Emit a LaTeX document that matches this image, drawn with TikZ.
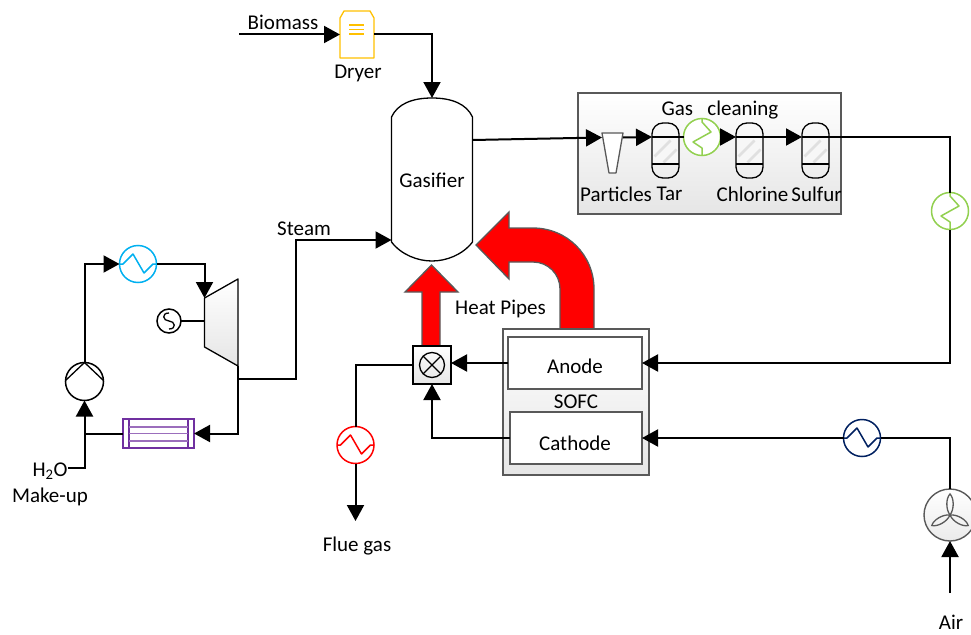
\documentclass[tikz,border=0pt]{standalone}
\usepackage{fontspec}
\setmainfont{Carlito}
\usetikzlibrary{arrows.meta,calc}
\definecolor{dkgray}{HTML}{595959}
\definecolor{hxgreen}{HTML}{92D050}
\definecolor{hxblue}{HTML}{00B0F0}
\definecolor{hxnavy}{HTML}{002060}
\definecolor{dryyellow}{HTML}{FFC000}
\definecolor{conpurple}{HTML}{7030A0}
\tikzset{
flow/.style={line width=2pt,-{Triangle[length=16pt,width=17pt]}},
pipe/.style={line width=2pt},
lbl/.style={font=\fontsize{21}{24}\selectfont,inner sep=0pt},
hxcirc/.style={circle,draw,line width=1.5pt,minimum size=37pt,inner sep=0pt,outer sep=0pt},
hxsq/.pic={\draw[line width=1.5pt,line join=round,pic actions](-18.5,0)--(-15,0)--(-5,-10)--(6,9)--(15,0)--(18.5,0);},
hxsqv/.pic={\draw[line width=1.5pt,line join=round,pic actions](0,-18)--(0,-15)--(9,-5)--(-9,5)--(0,11)--(0,18);},
vessel/.style={draw,line width=1.3pt,rounded corners=11pt,minimum width=27pt,minimum height=55pt,inner sep=0pt,outer sep=0pt,
path picture={\begin{scope}[sharp corners,line width=1.3pt]
\fill[black!3]([yshift=-14pt]path picture bounding box.north west) rectangle ([yshift=14pt]path picture bounding box.south east);
\draw[black!12,line width=2.5pt]([shift={(-11,6)}]path picture bounding box.center)--++(16,-16);
\draw[black!12,line width=2.5pt]([shift={(-2,12)}]path picture bounding box.center)--++(13,-13);
\draw([yshift=-14pt]path picture bounding box.north west)--([yshift=-14pt]path picture bounding box.north east);
\draw([yshift=14pt]path picture bounding box.south west)--([yshift=14pt]path picture bounding box.south east);
\end{scope}}},
heatarrow/.style={draw=dkgray,line width=1.3pt,fill=red,line join=miter},
stack/.style={draw=dkgray,line width=1.5pt,fill=white,minimum height=52pt,inner sep=0pt,outer sep=0pt},
softbox/.style={draw=dkgray,line width=1.2pt,top color=white,bottom color=black!10,inner sep=0pt,outer sep=0pt}
}
\begin{document}
\begin{tikzpicture}[x=1pt,y=-1pt,node distance=43.5pt]
\useasboundingbox (0,0) rectangle (971,634);
% feed side
\coordinate(BIOin) at (239,34.5);
\node(BIO)[lbl] at (283,22.5){Biomass};
\node(DRY)[minimum width=34pt,minimum height=47pt,inner sep=0pt,outer sep=0pt] at (357,34.5){};
\draw[dryyellow,line width=1.3pt,line join=round](DRY.south west)--($(DRY.north west)+(0,7)$)--($(DRY.north west)+(4,0)$)--($(DRY.north east)+(-4,0)$)--($(DRY.north east)+(0,7)$)--(DRY.south east)--cycle;
\foreach \yy in {25,29.5,34}{\draw[dryyellow,line width=1.3pt](349,\yy)--(364,\yy);}
\node(DRYl)[lbl] at (358,73){Dryer};
\node(GAS)[minimum width=81pt,minimum height=163pt,inner sep=0pt,outer sep=0pt] at (432,179.5){};
\draw[line width=1.3pt]($(GAS.north west)+(0,19)$) .. controls ($(GAS.north west)+(6,6)$) and ($(GAS.north)+(-20,0)$) .. (GAS.north) .. controls ($(GAS.north)+(20,0)$) and ($(GAS.north east)+(-6,6)$) .. ($(GAS.north east)+(0,19)$)--($(GAS.south east)+(0,-19)$) .. controls ($(GAS.south east)+(-10,-6)$) and ($(GAS.south)+(14,0)$) .. (GAS.south) .. controls ($(GAS.south)+(-14,0)$) and ($(GAS.south west)+(10,-6)$) .. ($(GAS.south west)+(0,-19)$)--cycle;
\node(GASl)[lbl] at (432,180){Gasifier};
\draw[flow](BIOin)--(DRY.west);
\draw[flow](DRY.east)-|(GAS.north);
% gas cleaning
\node(CLN)[softbox,minimum width=263pt,minimum height=121pt] at (709.5,153.5){};
\node(CLNl)[lbl] at (720,110){Gas\ \ \ cleaning};
\node(CYC)[minimum width=21pt,minimum height=40pt,inner sep=0pt,outer sep=0pt] at (612.5,153){};
\draw[dkgray,line width=1.3pt,fill=white,line join=round](CYC.north west)--(CYC.north east)--($(CYC.south east)+(-7,0)$)--($(CYC.south west)+(7,0)$)--cycle;
\coordinate(CYCin) at (602,137.5);
\coordinate(CYCout) at (623,137.5);
\coordinate(GASout) at (472.5,140);
\node(TAR)[vessel] at (665.5,150.5){};
\node(CHL)[vessel] at (749.5,150.5){};
\node(SUL)[vessel] at (815.5,150.5){};
\coordinate(TARw) at (652,137);
\coordinate(CHLw) at (736,137);
\coordinate(SULw) at (802,137);
\coordinate(TARe) at (679,137);
\coordinate(CHLe) at (763,137);
\coordinate(SULe) at (829,137);
\node(GR1)[hxcirc,draw=hxgreen,fill=white] at (702,137){};
\pic[hxgreen] at (GR1) {hxsqv};
\node(GR2)[hxcirc,draw=hxgreen,fill=white] at (950,211){};
\pic[hxgreen] at (GR2) {hxsqv};
\draw[flow](GASout)--(CYCin);
\draw[flow](CYCout)--(TARw);
\draw[pipe](TARe)--(GR1.west);
\draw[flow](GR1.east)--(CHLw);
\draw[flow](CHLe)--(SULw);
\node(PARl)[lbl,below of = CYC,yshift=2.5pt,xshift=3.5pt]{Particles};
\node(TARl)[lbl,below of = TAR,xshift=4pt]{Tar};
\node(CHLl)[lbl,below of = CHL,xshift=3pt]{Chlorine};
\node(SULl)[lbl,below of = SUL,xshift=1pt]{Sulfur};
% heat pipes
\draw[heatarrow](594,329)--(594,289) .. controls (594,255) and (567,228) .. (533,228)--(509,228)--(509,212)--(476,245)--(509,279)--(509,262)--(533,262) .. controls (548,262) and (560,274) .. (560,289)--(560,329)--cycle;
\draw[heatarrow](422,346)--(422,292)--(405,292)--(431.5,265)--(458,292)--(440,292)--(440,346)--cycle;
\node(HPl)[lbl] at (500.5,309){Heat Pipes};
% fuel cell
\node(SOFC)[softbox,minimum width=146pt,minimum height=146pt] at (576,402){};
\node(ANO)[stack,minimum width=134pt] at (575,363){};
\node(CAT)[stack,minimum width=132pt] at (576,438){};
\node(ANOl)[lbl] at (575,366){Anode};
\node(CATl)[lbl] at (575,443){Cathode};
\node(SOFCl)[lbl] at (576,402){SOFC};
\node(MIX)[softbox,draw=black,line width=1.5pt,minimum size=38pt] at (432,365){};
\node(MIXc)[circle,draw,line width=1.3pt,minimum size=25pt,inner sep=0pt,path picture={\draw[line width=1.3pt](path picture bounding box.north west)--(path picture bounding box.south east);\draw[line width=1.3pt](path picture bounding box.north east)--(path picture bounding box.south west);}] at (MIX){};
\node(RED)[hxcirc,draw=red] at (355.5,445){};
\pic[red] at (RED) {hxsq};
\coordinate(FLUend) at (355.5,521);
\node(FLUl)[lbl] at (357,546){Flue gas};
\draw[flow](ANO.west)--(ANO.west -| MIX.east);
\draw[flow](CAT.west)-|(MIX.south);
\draw[pipe](MIX.west)-|(RED.north);
\draw[flow](RED.south)--(FLUend);
% air side
\node(FAN)[circle,draw=dkgray,line width=1.4pt,top color=white,bottom color=black!8,minimum size=52pt,inner sep=0pt,outer sep=0pt] at (950,515){};
\foreach \aa in {0,120,240}{\draw[dkgray,line width=1.3pt,rotate around={\aa:(FAN.center)}](FAN.center) .. controls ($(FAN.center)+(-4.5,-6)$) and ($(FAN.center)+(-4,-17)$) .. ($(FAN.center)+(0,-21)$) .. controls ($(FAN.center)+(4,-17)$) and ($(FAN.center)+(4.5,-6)$) .. (FAN.center);}
\node(NAV)[hxcirc,draw=hxnavy] at (862,438){};
\pic[hxnavy] at (NAV) {hxsq};
\coordinate(AIRin) at (950,593);
\node(AIRl)[lbl] at (951,622){Air};
\draw[flow](AIRin)--(FAN.south);
\draw[pipe](FAN.north)|-(NAV.east);
\draw[flow](NAV.west)--(CAT.east);
\draw[pipe](SULe)-|(GR2.north);
\draw[flow](GR2.south)|-(ANO.east);
% steam cycle
\coordinate(TURa) at (204.5,298);
\coordinate(TURb) at (238,279);
\coordinate(TURc) at (238,366);
\coordinate(TURd) at (204.5,347);
\draw[line width=1.3pt,line join=round,top color=white,bottom color=black!10](TURa)--(TURb)--(TURc)--(TURd)--cycle;
\node(GEN)[circle,draw,line width=1.5pt,minimum size=24pt,inner sep=0pt,outer sep=0pt] at (169,321){};
\draw[line width=1.3pt]($(GEN.center)+(0,-8)$) .. controls ($(GEN.center)+(-8,-8)$) and ($(GEN.center)+(-6,0)$) .. (GEN.center) .. controls ($(GEN.center)+(6,0)$) and ($(GEN.center)+(8,8)$) .. ($(GEN.center)+(0,8)$);
\draw[pipe](GEN.east)--(GEN.east -| TURa);
\node(BLU)[hxcirc,draw=hxblue] at (138,264){};
\pic[hxblue] at (BLU) {hxsq};
\node(PMP)[circle,draw,line width=1.5pt,minimum size=38pt,inner sep=0pt,outer sep=0pt,path picture={\draw[line width=1.3pt]([shift={(-19,-1)}]path picture bounding box.center)--(path picture bounding box.north)--([shift={(19,-1)}]path picture bounding box.center);}] at (84.5,381.5){};
\node(CON)[draw=conpurple,line width=1.4pt,minimum width=71pt,minimum height=29pt,inner sep=0pt,outer sep=0pt] at (158.5,433.5){};
\foreach \xx in {129,188}{\draw[conpurple,line width=1.4pt](\xx,419)--(\xx,448);}
\foreach \yy in {427,433.5,441}{\draw[conpurple!70,line width=1.2pt](129,\yy)--(188,\yy);}
\coordinate(STMcor) at (296,240);
\coordinate(GASin) at (391.5,240);
\coordinate(TURout) at (238,379);
\coordinate(MKUin) at (68,468);
\node(STMl)[lbl] at (304,229){Steam};
\node(MKUa)[lbl] at (50,471.5){H\textsubscript{2}O};
\node(MKUb)[lbl] at (50,497){Make-up};
\draw[flow](PMP.north)|-(BLU.west);
\draw[flow](BLU.east)-|(TURa);
\draw[flow](TURc)|-(CON.east);
\draw[flow](TURout)-|(STMcor)--(GASin);
\draw[pipe](CON.west)--(CON.west -| PMP.south);
\draw[flow](MKUin)-|(PMP.south);
\end{tikzpicture}
\end{document}
